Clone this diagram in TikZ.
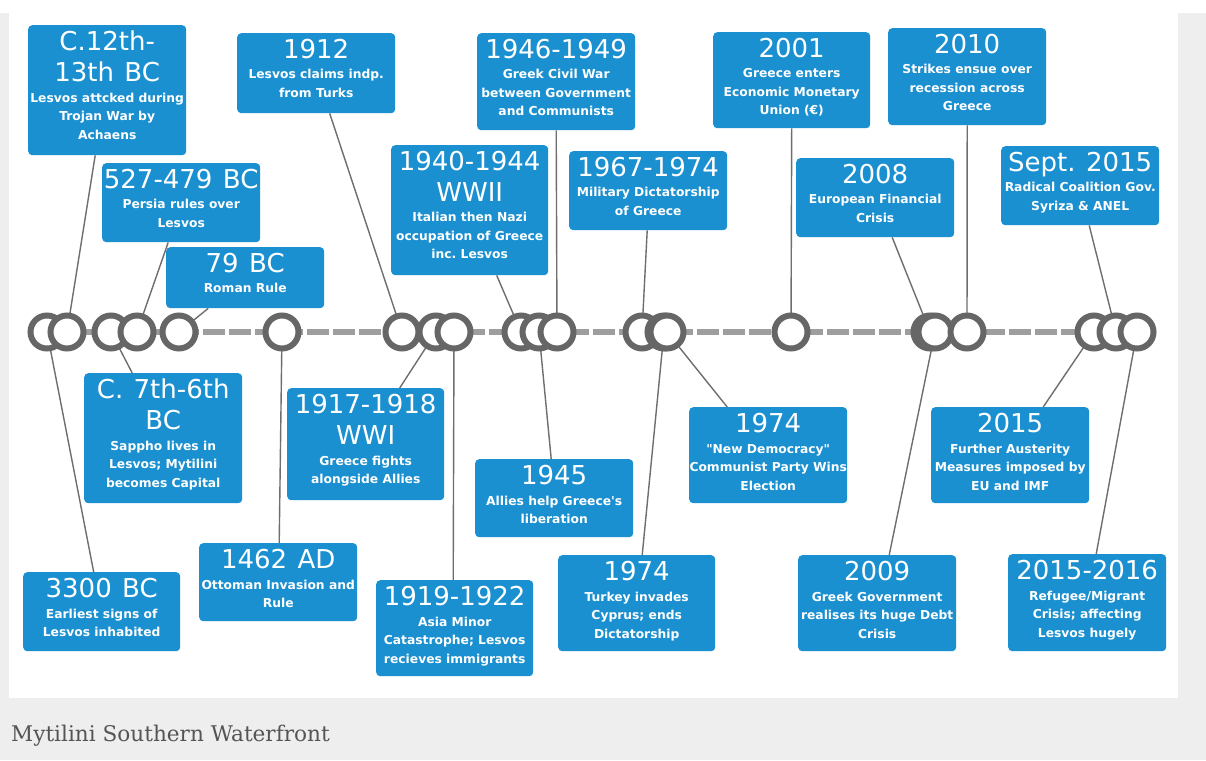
\documentclass[tikz,border=0pt]{standalone}
\usepackage{fontspec}
\setmainfont{DejaVu Sans}
\newfontfamily\capfont{DejaVu Serif}
\usetikzlibrary{calc}
\definecolor{boxblue}{RGB}{27,144,208}
\definecolor{ringgray}{RGB}{102,102,102}
\definecolor{dashgray}{RGB}{158,158,158}
\definecolor{linkgray}{RGB}{110,110,110}
\definecolor{pagegray}{RGB}{238,238,238}
\definecolor{capgray}{RGB}{85,85,85}
\frenchspacing
\newcommand\ttl{\leftskip=0pt plus 1fil\rightskip=0pt plus 1fil\parfillskip=0pt\parindent=0pt\fontsize{26}{31}\selectfont\spaceskip=0.4em}
\newcommand\subt{\par\vskip2pt\fontsize{12.3}{18.5}\selectfont\bfseries\spaceskip=0pt}
\tikzset{
 evbox/.style={draw=none, fill=boxblue, rounded corners=4pt, anchor=north west, inner sep=0pt, minimum width=158pt},
 evtext/.style={anchor=north, text=white, text width=160pt, align=flush center, inner sep=0pt, yshift=-6pt, font={\parindent=0pt}},
 ring/.style={circle, draw=ringgray, line width=6pt, fill=white, minimum size=33pt, inner sep=0pt},
 link/.style={draw=linkgray, line width=1.4pt},
 dashline/.style={draw=dashgray, line width=6pt, dash pattern=on 22pt off 4pt},
}
\begin{document}
\begin{tikzpicture}[x=1pt,y=-1pt]
\useasboundingbox (0,0) rectangle (1206,760);
\fill[white] (0,0) rectangle (1206,760);
\fill[pagegray] (0,13) rectangle (1206,760);
\fill[white] (9,13) rectangle (1178,698);

% rings (positions)
\foreach \n/\x in {M/47,A/67,L/111,B/137,C/179,N/282,D/402,O/436,P/454,E/521,Q/539,F/557,G/642,R/664,S/667,H/791,I/930,T/935,J/967,U/1094,K/1116,V/1137}
  \coordinate (p\n) at (\x,332);

% boxes top
\node[evbox, minimum height=130pt] (A) at (28,25) {};
\node[evbox, minimum height=79pt] (B) at (102,163) {};
\node[evbox, minimum height=61pt] (C) at (166,247) {};
\node[evbox, minimum height=80pt] (D) at (237,33) {};
\node[evbox, minimum height=130pt, minimum width=157pt] (E) at (391,145) {};
\node[evbox, minimum height=97pt] (F) at (477,33) {};
\node[evbox, minimum height=79pt] (G) at (569,151) {};
\node[evbox, minimum height=96pt, minimum width=157pt] (H) at (713,32) {};
\node[evbox, minimum height=79pt] (I) at (796,158) {};
\node[evbox, minimum height=97pt] (J) at (888,28) {};
\node[evbox, minimum height=79pt] (K) at (1001,146) {};
% boxes bottom
\node[evbox, minimum height=130pt] (L) at (84,373) {};
\node[evbox, minimum height=79pt, minimum width=157pt] (M) at (23,572) {};
\node[evbox, minimum height=78pt] (N) at (199,543) {};
\node[evbox, minimum height=112pt, minimum width=157pt] (O) at (287,388) {};
\node[evbox, minimum height=96pt, minimum width=157pt] (P) at (376,580) {};
\node[evbox, minimum height=78pt] (Q) at (475,459) {};
\node[evbox, minimum height=96pt, minimum width=157pt] (R) at (558,555) {};
\node[evbox, minimum height=96pt] (S) at (689,407) {};
\node[evbox, minimum height=96pt] (T) at (798,555) {};
\node[evbox, minimum height=96pt] (U) at (931,407) {};
\node[evbox, minimum height=97pt] (V) at (1008,554) {};

% links
\draw[link] ([xshift=-12pt]A.south) -- (pA);
\draw[link] ([xshift=-13pt]B.south) -- (pB);
\draw[link] ([xshift=-37pt]C.south) -- (pC);
\draw[link] ([xshift=13.5pt]D.south) -- (pD);
\draw[link] ([xshift=27pt]E.south) -- (pE);
\draw[link] (F.south) -- (pF);
\draw[link] ([xshift=-1pt]G.south) -- (pG);
\draw[link] (H.south) -- (pH);
\draw[link] ([xshift=17pt]I.south) -- (pI);
\draw[link] (J.south) -- (pJ);
\draw[link] ([xshift=9pt]K.south) -- (pK);
\draw[link] ([xshift=-31pt]L.north) -- (pL);
\draw[link] ([xshift=-8pt]M.north) -- (pM);
\draw[link] ([xshift=1pt]N.north) -- (pN);
\draw[link] ([xshift=34pt]O.north) -- (pO);
\draw[link] ([xshift=-1.5pt]P.north) -- (pP);
\draw[link] ([xshift=-3pt]Q.north) -- (pQ);
\draw[link] ([xshift=5.5pt]R.north) -- (pR);
\draw[link] ([xshift=-41pt]S.north) -- (pS);
\draw[link] ([xshift=12pt]T.north) -- (pT);
\draw[link] ([xshift=33pt]U.north) -- (pU);
\draw[link] ([xshift=9pt]V.north) -- (pV);

% timeline
\draw[dashline] (pM) -- (pV);
\foreach \n in {M,A,L,B,C,N,D,O,P,E,Q,F,G,R,S,H,I,T,J,U,K,V}
  \node[ring] (r\n) at (p\n) {};

% texts
\node[evtext] (At) at (A.north) {\ttl C.12th-\par 13th BC\subt Lesvos attcked during\par Trojan War by\par Achaens\par};
\node[evtext] (Bt) at (B.north) {\ttl 527-479 BC\subt Persia rules over\par Lesvos\par};
\node[evtext] (Ct) at (C.north) {\ttl 79 BC\subt Roman Rule\par};
\node[evtext] (Dt) at (D.north) {\ttl 1912\subt Lesvos claims indp.\par from Turks\par};
\node[evtext] (Et) at (E.north) {\ttl 1940-1944\par WWII\subt Italian then Nazi\par occupation of Greece\par inc. Lesvos\par};
\node[evtext] (Ft) at (F.north) {\ttl 1946-1949\subt Greek Civil War\par between Government\par and Communists\par};
\node[evtext] (Gt) at (G.north) {\ttl 1967-1974\subt Military Dictatorship\par of Greece\par};
\node[evtext] (Ht) at (H.north) {\ttl 2001\subt Greece enters\par Economic Monetary\par Union (€)\par};
\node[evtext] (It) at (I.north) {\ttl 2008\subt European Financial\par Crisis\par};
\node[evtext] (Jt) at (J.north) {\ttl 2010\subt Strikes ensue over\par recession across\par Greece\par};
\node[evtext] (Kt) at (K.north) {\ttl Sept. 2015\subt Radical Coalition Gov.\par Syriza \& ANEL\par};
\node[evtext] (Lt) at (L.north) {\ttl C. 7th-6th\par BC\subt Sappho lives in\par Lesvos; Mytilini\par becomes Capital\par};
\node[evtext] (Mt) at (M.north) {\ttl 3300 BC\subt Earliest signs of\par Lesvos inhabited\par};
\node[evtext] (Nt) at (N.north) {\ttl 1462 AD\subt Ottoman Invasion and\par Rule\par};
\node[evtext] (Ot) at (O.north) {\ttl 1917-1918\par WWI\subt Greece fights\par alongside Allies\par};
\node[evtext] (Pt) at (P.north) {\ttl 1919-1922\subt Asia Minor\par Catastrophe; Lesvos\par recieves immigrants\par};
\node[evtext] (Qt) at (Q.north) {\ttl 1945\subt Allies help Greece\textquotesingle s\par liberation\par};
\node[evtext] (Rt) at (R.north) {\ttl 1974\subt Turkey invades\par Cyprus; ends\par Dictatorship\par};
\node[evtext] (St) at (S.north) {\ttl 1974\subt \textquotedbl New Democracy\textquotedbl\par Communist Party Wins\par Election\par};
\node[evtext] (Tt) at (T.north) {\ttl 2009\subt Greek Government\par realises its huge Debt\par Crisis\par};
\node[evtext] (Ut) at (U.north) {\ttl 2015\subt Further Austerity\par Measures imposed by\par EU and IMF\par};
\node[evtext] (Vt) at (V.north) {\ttl 2015-2016\subt Refugee/Migrant\par Crisis; affecting\par Lesvos hugely\par};

% caption
\node[anchor=base west, inner sep=0pt, text=capgray, font=\capfont\fontsize{21.6}{26}\selectfont] (cap) at (11,741) {Mytilini Southern Waterfront};
\end{tikzpicture}
\end{document}
